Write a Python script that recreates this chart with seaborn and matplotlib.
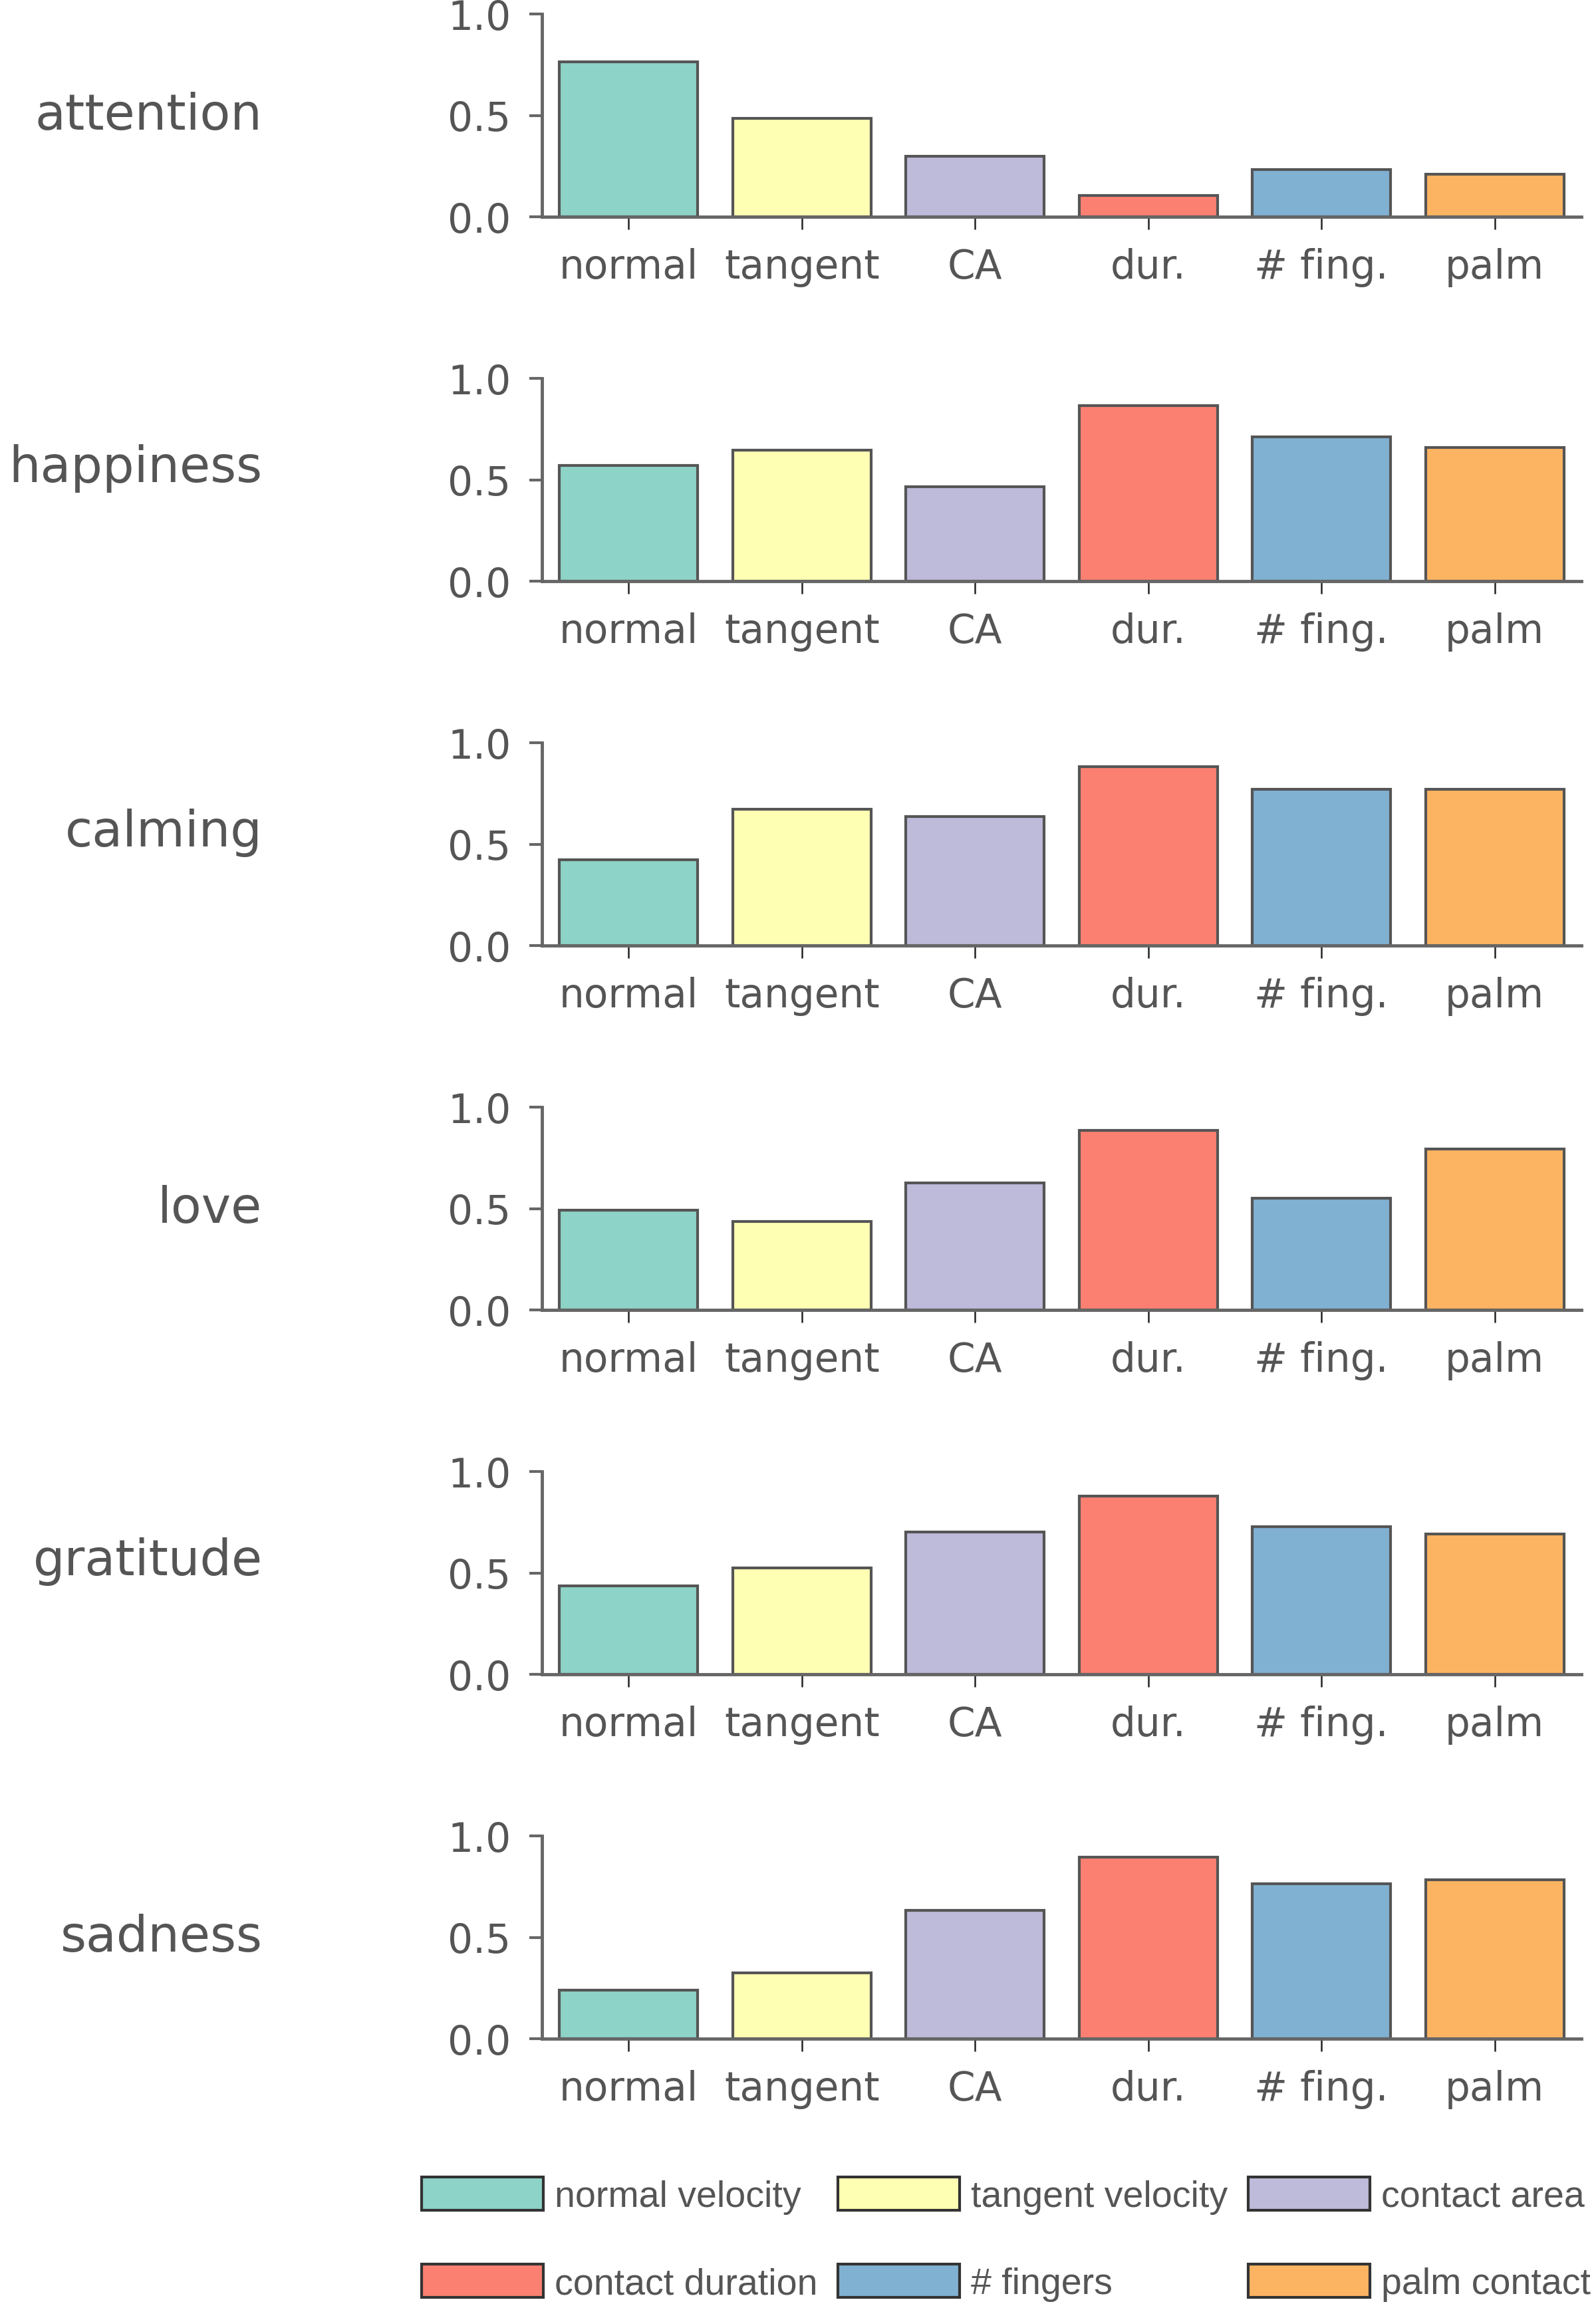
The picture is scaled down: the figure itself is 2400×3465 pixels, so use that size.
import matplotlib
matplotlib.use("Agg")
import matplotlib.pyplot as plt
from matplotlib.patches import Patch
import seaborn as sns

# data
features = ['normal', 'tangent', 'CA', 'dur.', '# fing.', 'palm']
legend_names = ['normal velocity', 'tangent velocity', 'contact area',
                'contact duration', '# fingers', 'palm contact']
emotions = ['attention', 'happiness', 'calming', 'love', 'gratitude', 'sadness']

attention = [0.765, 0.485, 0.30, 0.105, 0.232, 0.21]
happiness = [0.570, 0.647, 0.466, 0.866, 0.713, 0.658]
calming = [0.424, 0.672, 0.636, 0.883, 0.770, 0.770]
love = [0.493, 0.436, 0.627, 0.886, 0.552, 0.792]
gratitude = [0.435, 0.525, 0.702, 0.880, 0.727, 0.692]
sadness = [0.240, 0.325, 0.632, 0.895, 0.765, 0.785]
values = [attention, happiness, calming, love, gratitude, sadness]

yticks = [0.0, 0.5, 1.0]

sns.set_style("white")
plt.rcParams['font.family'] = ['DejaVu Sans']

colors = sns.color_palette("Set3", 6)
txt = '#555555'
spine_c = '#666666'

W, H = 2400, 3466
fig = plt.figure(figsize=(W / 100, H / 100), dpi=100)

left, right = 815, 2378
ax_h = 305
for i, (emo, vals) in enumerate(zip(emotions, values)):
    bottom = 327 + 548 * i
    ax = fig.add_axes([left / W, 1 - bottom / H, (right - left) / W, ax_h / H])
    sns.barplot(x=features, y=vals, hue=features, palette=colors, ax=ax,
                edgecolor='#555555', linewidth=3, width=0.8, legend=False,
                saturation=1, zorder=2)
    ax.set_xlim(-0.5, 5.5)
    ax.set_ylim(0, 1)
    ax.set_yticks(yticks)
    ax.set_yticklabels([f'{t:.1f}' for t in yticks])
    ax.set_xlabel('')
    ax.set_ylabel('')
    sns.despine(ax=ax)
    for s in ['left', 'bottom']:
        ax.spines[s].set_color(spine_c)
        ax.spines[s].set_linewidth(3.5)
        ax.spines[s].set_zorder(3)
    ax.tick_params(axis='y', length=13.5, width=3, color=spine_c, pad=20,
                   labelsize=43, labelcolor=txt, left=True)
    ax.tick_params(axis='x', length=14, width=1.8, color='#222222', pad=19,
                   labelsize=43, labelcolor=txt, bottom=True)
    # labels with descenders sit a bit higher in the reference
    ypos = 0.56 if any(c in emo for c in 'gpqy') else 0.5
    ax.text(-0.269, ypos, emo, transform=ax.transAxes, ha='right', va='center',
            fontsize=54, color=txt)

# legend, ordered so that columns come out as in the reference
handles = [Patch(facecolor=c, edgecolor='#333333', linewidth=3) for c in colors]
order = [0, 3, 1, 4, 2, 5]
fig.legend([handles[k] for k in order], [legend_names[k] for k in order],
           ncol=3, loc='upper left', bbox_to_anchor=(634 / W, 1 - 3275 / H),
           frameon=False, borderpad=0, borderaxespad=0,
           handlelength=3.3, handleheight=1.0, handletextpad=0.3,
           columnspacing=0.55, labelspacing=1.36,
           prop={'family': 'Liberation Sans', 'size': 40}, labelcolor=txt)

fig.savefig('out.png', dpi=100)
